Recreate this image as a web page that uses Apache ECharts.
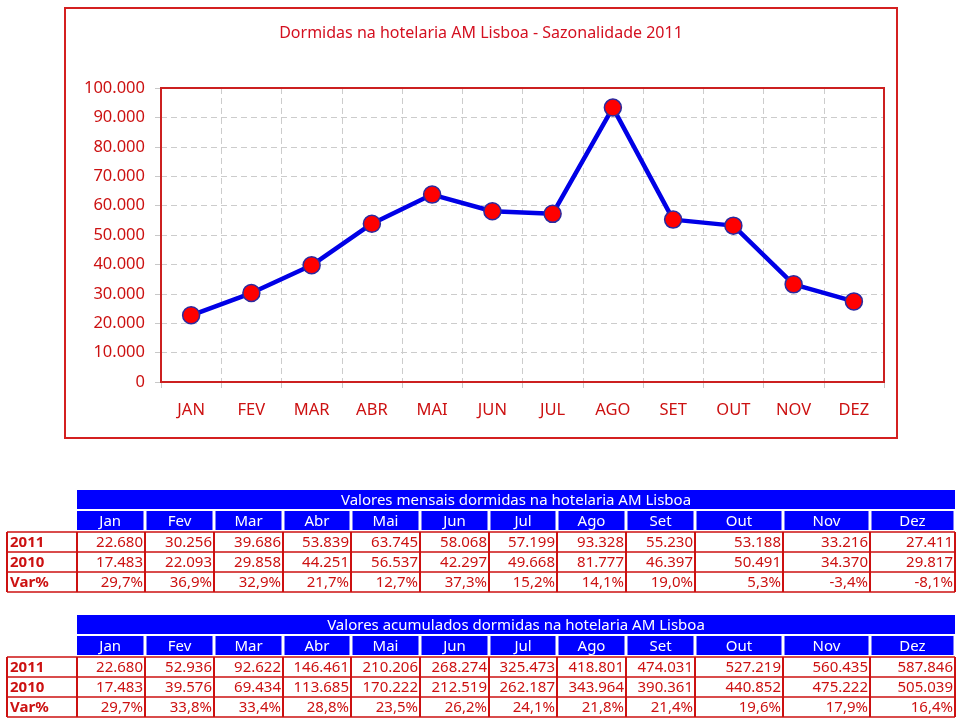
<!DOCTYPE html>
<html><head><meta charset="utf-8">
<script src="https://cdn.jsdelivr.net/npm/echarts@6/dist/echarts.min.js"></script>
<style>html,body{margin:0;padding:0;background:#fff}#c{width:960px;height:724px}</style>
</head><body><div id="c"></div>
<script>
const chartTitle = 'Dormidas na hotelaria AM Lisboa - Sazonalidade 2011';
const axisMonths = ['JAN','FEV','MAR','ABR','MAI','JUN','JUL','AGO','SET','OUT','NOV','DEZ'];
const tableMonths = ['Jan','Fev','Mar','Abr','Mai','Jun','Jul','Ago','Set','Out','Nov','Dez'];
const rowLabels = ['2011','2010','Var%'];
const table1Title = 'Valores mensais dormidas na hotelaria AM Lisboa';
const table2Title = 'Valores acumulados dormidas na hotelaria AM Lisboa';
const monthly2011 = [22680,30256,39686,53839,63745,58068,57199,93328,55230,53188,33216,27411];
const monthly2010 = [17483,22093,29858,44251,56537,42297,49668,81777,46397,50491,34370,29817];
const monthlyVar = [29.7,36.9,32.9,21.7,12.7,37.3,15.2,14.1,19.0,5.3,-3.4,-8.1];
const cum2011 = [22680,52936,92622,146461,210206,268274,325473,418801,474031,527219,560435,587846];
const cum2010 = [17483,39576,69434,113685,170222,212519,262187,343964,390361,440852,475222,505039];
const cumVar = [29.7,33.8,33.4,28.8,23.5,26.2,24.1,21.8,21.4,19.6,17.9,16.4];
const yMin = 0, yMax = 100000, yStep = 10000;

const RED = '#cc1111';
const BLUE = '#0000ff';
const FONT = '"Noto Sans", "Open Sans", sans-serif';

function fmtInt(n){ return String(n).replace(/\B(?=(\d{3})+(?!\d))/g,'.'); }
function fmtPct(v){ return v.toFixed(1).replace('.',',') + '%'; }

const colEdges = [77,145,214,283,351,420,489,557,626,695,783,870,955];

function buildTable(top, title, r1, r2, r3){
  const els = [];
  const hH = 19, mTop = top + 21, mH = 19, rTop = top + 42, rH = 20;
  els.push({type:'rect', shape:{x:colEdges[0], y:top, width:colEdges[12]-colEdges[0], height:hH}, style:{fill:BLUE}});
  els.push({type:'text', style:{text:title, x:(colEdges[0]+colEdges[12])/2, y:top+hH/2+1, align:'center', verticalAlign:'middle', font:'15px '+FONT, fill:'#fff'}});
  for(let i=0;i<12;i++){
    const x0 = colEdges[i]+(i?1.5:0), x1 = colEdges[i+1]-1.5;
    els.push({type:'rect', shape:{x:x0, y:mTop, width:x1-x0, height:mH}, style:{fill:BLUE}});
    els.push({type:'text', style:{text:tableMonths[i], x:(x0+x1)/2, y:mTop+mH/2+1, align:'center', verticalAlign:'middle', font:'15px '+FONT, fill:'#fff'}});
  }
  const rows = [r1.map(fmtInt), r2.map(fmtInt), r3.map(fmtPct)];
  for(let r=0;r<3;r++){
    const y = rTop + r*rH;
    els.push({type:'text', style:{text:rowLabels[r], x:10, y:y+rH/2+1, align:'left', verticalAlign:'middle', font:'bold 15px '+FONT, fill:RED}});
    for(let i=0;i<12;i++){
      els.push({type:'text', style:{text:rows[r][i], x:colEdges[i+1]-2, y:y+rH/2+1, align:'right', verticalAlign:'middle', font:'15px '+FONT, fill:RED}});
    }
  }
  for(let r=0;r<=3;r++){
    const y = rTop + r*rH;
    els.push({type:'line', shape:{x1:7, y1:y, x2:colEdges[12], y2:y}, style:{stroke:RED, lineWidth:1.5}});
  }
  const xs = [7].concat(colEdges);
  xs.forEach(x=>{
    els.push({type:'line', shape:{x1:x, y1:rTop, x2:x, y2:rTop+3*rH}, style:{stroke:RED, lineWidth:2}});
  });
  return els;
}

const graphics = [
  {type:'rect', shape:{x:65, y:8, width:832, height:430}, style:{fill:'none', stroke:'#d42020', lineWidth:2}, z:-1},
  {type:'rect', shape:{x:161, y:88, width:723, height:294}, style:{fill:'none', stroke:'#cc2020', lineWidth:2}, z:3},
  {type:'text', style:{text:chartTitle, x:481, y:33, align:'center', verticalAlign:'middle', font:'16px '+FONT, fill:'#d41020'}}
].concat(buildTable(490, table1Title, monthly2011, monthly2010, monthlyVar))
 .concat(buildTable(615, table2Title, cum2011, cum2010, cumVar));

const chart = echarts.init(document.getElementById('c'), null, {renderer:'canvas'});
chart.setOption({
  animation:false,
  backgroundColor:'#fff',
  grid:{left:161, top:88, width:723, height:294, show:false},
  xAxis:{
    type:'category', data:axisMonths, boundaryGap:true,
    axisLine:{show:true, lineStyle:{color:'#cc2020', width:2}},
    axisTick:{show:true, length:6, lineStyle:{color:'#c8c8c8'}},
    axisLabel:{color:'#cc1111', fontSize:16.5, fontFamily:FONT, margin:20},
    splitLine:{show:true, lineStyle:{color:'#cccccc', type:[6,4], width:1}}
  },
  yAxis:{
    type:'value', min:yMin, max:yMax, interval:yStep,
    axisLine:{show:true, lineStyle:{color:'#cc2020', width:2}},
    axisTick:{show:true, length:6, lineStyle:{color:'#c8c8c8'}},
    axisLabel:{color:'#cc1111', fontSize:16.5, fontFamily:FONT, margin:16, formatter:v=>fmtInt(v)},
    splitLine:{show:true, lineStyle:{color:'#cccccc', type:[6,4], width:1}}
  },
  series:[{
    type:'line', data:monthly2011,
    lineStyle:{color:'#0000e6', width:4.5},
    symbol:'circle', symbolSize:17,
    itemStyle:{color:'#ff0000', borderColor:'#2a2aa0', borderWidth:1.5},
    z:5
  }],
  graphic:graphics
});
</script></body></html>
